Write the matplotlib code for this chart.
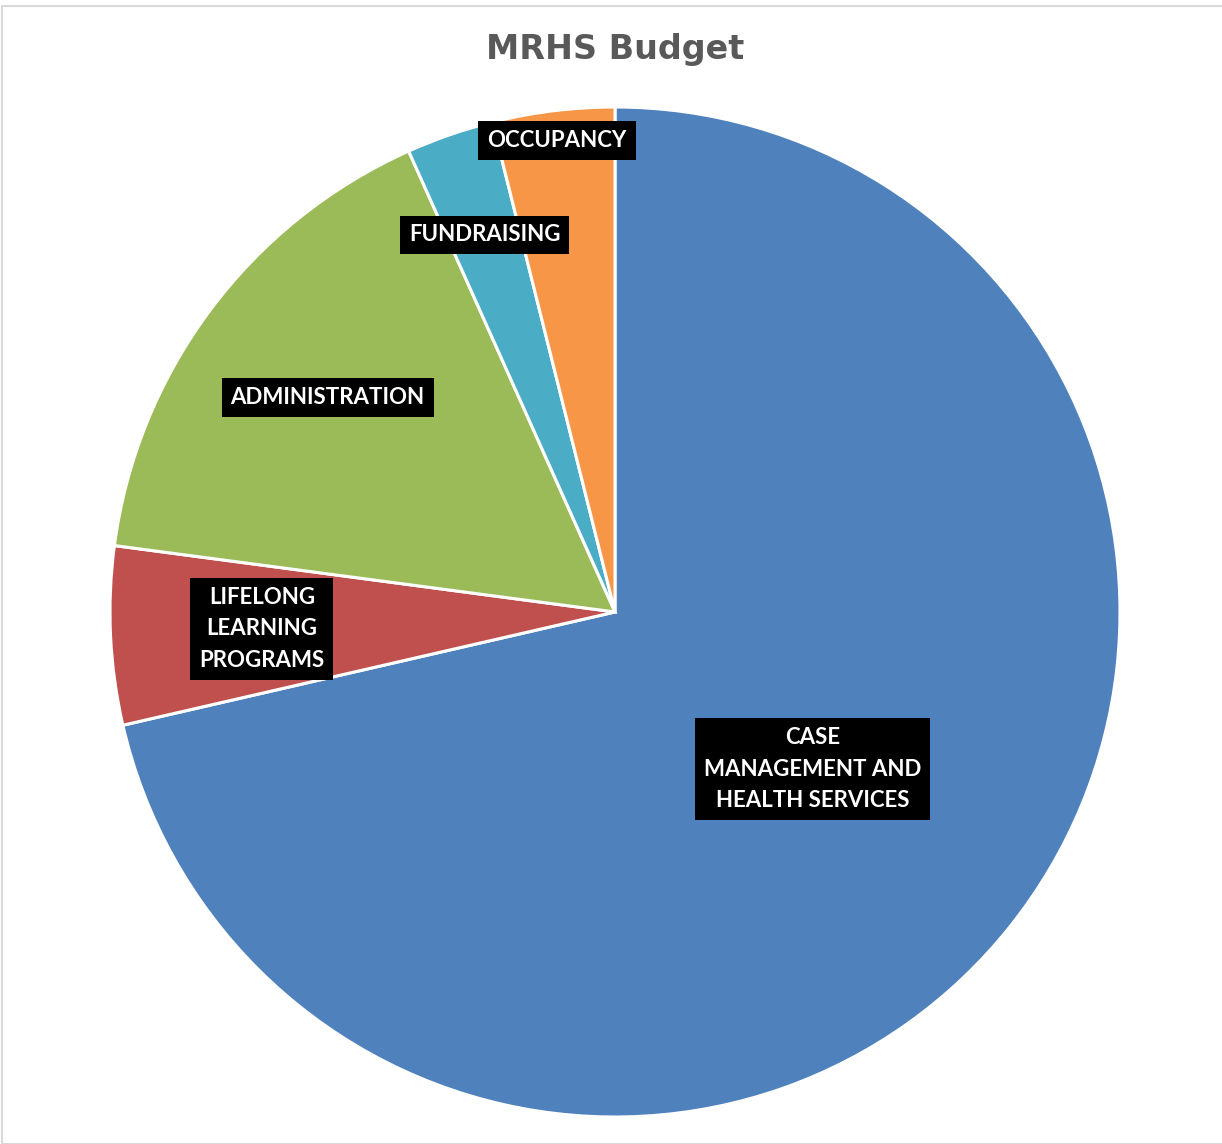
import numpy as np
import matplotlib.pyplot as plt
from matplotlib.patches import Rectangle

# budget share by category, percent
categories = ["CASE\nMANAGEMENT AND\nHEALTH SERVICES", "LIFELONG\nLEARNING\nPROGRAMS",
              "ADMINISTRATION", "FUNDRAISING", "OCCUPANCY"]
shares = [71.4, 5.7, 16.2, 2.8, 3.9]
colors = ["#4F81BD", "#C0504D", "#9BBB59", "#4BACC6", "#F79646"]
label_r = [0.50, 0.70, 0.71, 0.79, 0.94]

W, H = 1222, 1144
fig = plt.figure(figsize=(W / 100, H / 100), dpi=100)

# light grey chart frame
fig.add_artist(Rectangle((2 / W, 0), 1, 1 - 6 / H, transform=fig.transFigure,
                         fill=False, edgecolor="#D9D9D9", linewidth=1.5))

cx, cy, r = 615, 612, 505
ax = fig.add_axes([(cx - r) / W, (H - cy - r) / H, 2 * r / W, 2 * r / H])
wedges, _ = ax.pie(shares, colors=colors, startangle=90, counterclock=False,
                   radius=1, wedgeprops=dict(edgecolor="white", linewidth=2.2))
ax.set_xlim(-1, 1)
ax.set_ylim(-1, 1)
ax.set_aspect("equal")
ax.axis("off")

for w, lab, d in zip(wedges, categories, label_r):
    mid = np.deg2rad((w.theta1 + w.theta2) / 2)
    ax.text(d * np.cos(mid), d * np.sin(mid), lab, ha="center", va="center",
            fontsize=16, fontweight="bold", family="Lato", color="white",
            linespacing=1.62, multialignment="center",
            bbox=dict(boxstyle="square,pad=0.4", facecolor="black", edgecolor="none"))

fig.text(615 / W, 1 - 50 / H, "MRHS Budget", ha="center", va="center",
         fontsize=24, fontweight="bold", color="#595959")

fig.savefig("out.png", dpi=100)
